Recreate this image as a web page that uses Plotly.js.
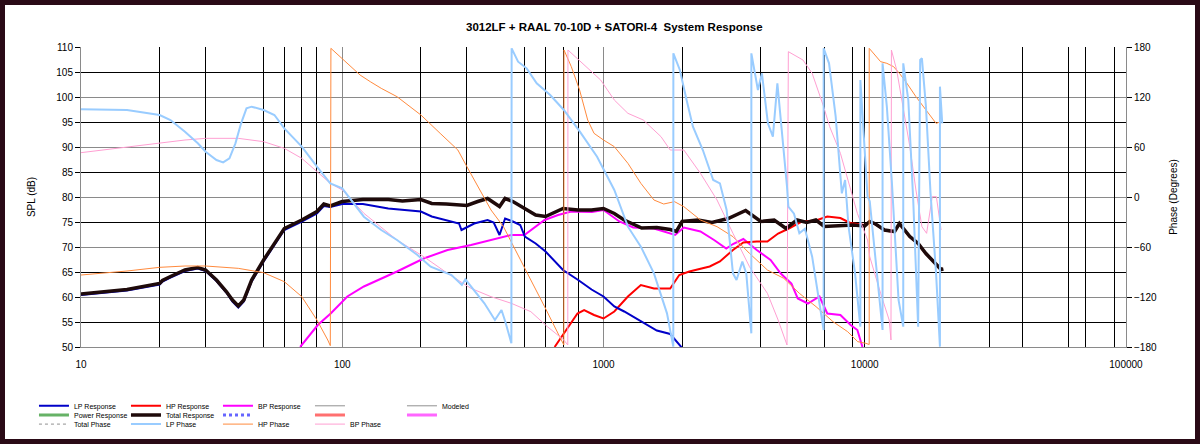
<!DOCTYPE html>
<html>
<head>
<meta charset="utf-8">
<script src="https://cdn.plot.ly/plotly-3.0.1.min.js"></script>
<style>
  html, body { margin: 0; padding: 0; background: #fff; }
  #frame { width: 1200px; height: 444px; box-sizing: border-box; border: 5px solid #2a0a16; background: #fff; }
  #chart { width: 1190px; height: 434px; }
</style>
</head>
<body>
<div id="frame"><div id="chart"></div></div>
<script>
"use strict";

// ---- data (Hz, dB / degrees) ----
var totFreq = [10, 15, 20, 20.5, 22, 25, 28, 30, 33, 36, 38, 40, 42, 45, 50, 55, 60, 70, 80, 85,
    90, 100, 120, 150, 170, 200, 220, 250, 300, 330, 360, 400, 420, 450, 500, 550, 600, 700, 800, 900,
    1000, 1100, 1200, 1400, 1600, 1800, 1900, 2000, 2300, 2600, 3000, 3500, 4000, 4500, 5000, 5500, 6000, 6500, 7000, 8000,
    9000, 10000, 10450, 11000, 11900, 13000, 13570, 14880, 16010, 17150, 18750, 19600, 20000];
var totDb = [60.6, 61.5, 62.7, 63.3, 64.1, 65.4, 65.9, 65.4, 63.4, 61.1, 59.4, 58.2, 59.4, 63.4, 67.4, 70.7, 73.7, 75.4, 77.1, 78.6,
    78.2, 79.1, 79.5, 79.5, 79.2, 79.5, 78.7, 78.6, 78.3, 79.1, 79.7, 78.1, 79.7, 79.1, 77.7, 76.4, 76.1, 77.7, 77.4, 77.4,
    77.7, 76.7, 75.4, 73.8, 73.9, 73.5, 73.1, 75.1, 75.4, 74.9, 75.7, 77.3, 75.1, 75.4, 73.7, 75.4, 74.9, 75.4, 74.1, 74.2,
    74.4, 74.2, 75.1, 74.6, 73.4, 73.1, 74.7, 72.1, 70.7, 68.7, 66.7, 65.5, 65.6];

var lpFreq = [10, 15, 20, 20.5, 22, 25, 28, 30, 33, 36, 38, 40, 42, 45, 50, 55, 60, 70, 80, 85,
    90, 100, 120, 150, 200, 220, 250, 280, 286, 320, 360, 380, 400, 420, 450, 480, 500, 550, 600, 700,
    800, 900, 1000, 1100, 1200, 1400, 1600, 1800, 2000];
var lpDb = [60.4, 61.3, 62.5, 63.1, 63.9, 65.2, 65.7, 65.2, 63.2, 60.9, 59.1, 57.9, 59.1, 63.1, 67.1, 70.4, 73.4, 75.1, 76.7, 78.2,
    78.0, 78.6, 78.6, 77.7, 77.1, 76.1, 75.4, 74.7, 73.4, 74.7, 75.4, 74.9, 72.4, 75.7, 75.1, 74.4, 72.1, 70.7, 69.1, 65.4,
    63.4, 61.5, 60.1, 58.1, 57.1, 55.1, 53.3, 52.6, 49.8];

var hpFreq = [650, 705, 795, 843, 920, 1000, 1100, 1240, 1390, 1560, 1800, 1950, 2130, 2550, 2790, 3130, 3430, 3860, 4240, 4660,
    5120, 5740, 6500, 7190, 8070, 8800, 9500, 10000, 10450, 11000, 11900, 13000, 13570, 14880, 16010, 17150, 18750, 19600];
var hpDb = [50, 52.7, 56.7, 57.4, 56.4, 55.7, 57.1, 60.1, 62.4, 61.7, 61.7, 64.4, 65.1, 66.1, 67.1, 69.4, 70.9, 71.1, 71.1, 72.7,
    73.7, 75.1, 75.3, 76.1, 75.8, 74.8, 74.5, 74.4, 75.0, 74.5, 73.3, 73.0, 74.6, 72.0, 70.6, 68.6, 66.6, 65.4];

var bpFreq = [69, 80.6, 90.3, 104.6, 121, 162, 205, 253, 311, 371, 444, 498, 527, 595, 670, 753, 903, 1000, 1150, 1300,
    1560, 1880, 2030, 2350, 2650, 2950, 3130, 3430, 3860, 4360, 4770, 5240, 5540, 6060, 6710, 7190, 8070, 8830, 9370, 9800];
var bpDb = [50, 54.4, 56.7, 60.1, 62.1, 65.1, 67.7, 69.4, 70.4, 71.4, 72.4, 72.4, 73.4, 75.4, 76.4, 77.1, 77.0, 77.4, 75.1, 73.9,
    73.7, 72.4, 73.9, 73.1, 71.4, 69.7, 70.6, 71.6, 69.4, 67.4, 64.7, 62.7, 59.7, 58.7, 60.1, 56.7, 56.4, 54.4, 53.4, 50];

var lpPhFreq = [10, 15, 20, 22, 25, 28, 30, 33, 35, 37, 39, 41, 43, 45, 50, 55, 60, 70, 80, 90,
    100, 121, 141, 162, 194, 218, 262, 287, 296, 311, 350, 384, 407, 421, 444, 445, 471, 508, 555, 625,
    705, 812, 945, 1100, 1240, 1390, 1560, 1750, 1850, 1851, 1960, 2080, 2200, 2400, 2630, 2790, 2960, 3130, 3230, 3400,
    3520, 3680, 3681, 3900, 4040, 4260, 4450, 4630, 4790, 5040, 5100, 5360, 5620, 5900, 6290, 6730, 6960, 6961, 7300, 7740,
    8170, 8410, 8670, 9180, 9620, 9621, 10250, 10450, 11100, 11700, 11701, 12150, 12700, 13470, 14040, 14041, 14680, 15330, 16010, 16300,
    16550, 17150, 17860, 18750, 19400, 19401, 19800];
var lpPhDeg = [105.2, 104.4, 98.4, 92.4, 78.4, 64.4, 54.4, 44.4, 41.6, 46.4, 64.4, 88.4, 106.4, 108.4, 104.4, 98.4, 82.4, 60.4, 36.4, 16.4,
    10.4, -23.6, -39.6, -51.6, -69.6, -83.6, -93.6, -105.6, -98.8, -107.6, -127.6, -147.6, -135.6, -149.6, -175.6, 178.4, 162.4, 154.4, 136.4, 122.4,
    104.4, 78.4, 48.4, 8.4, -35.6, -59.6, -91.6, -139.6, -179.6, 172.4, 152.4, 116.4, 84.4, 56.4, 20.4, 16.4, -15.6, -91.6, -99.6, -77.6,
    -91.6, -163.6, 172.4, 128.4, 148.4, 88.4, 72.4, 136.4, 88.4, 12.4, -11.6, -20, -43.6, -38, -71.6, -131.6, -159.6, 178.4, 160.4, 96.4,
    4.4, 20.4, -35.6, -91.6, -155.6, 140.4, 0.4, -5, -91.6, -159.6, 160.4, 108.4, 18, -123.6, -155.6, 160.4, 116.4, -3.6, -155.6, 164.4,
    166.4, 108.4, 4.4, -91.6, -179.6, 132.4, 88.4];

var hpPhFreq = [10, 15, 20, 25, 30, 40, 50, 60, 70, 80, 88, 90, 90.5, 101.6, 108, 117, 128, 141, 162, 200,
    237, 277, 300, 330, 371, 414, 466, 527, 595, 670, 705, 706, 753, 810, 870, 920, 1000, 1100, 1240, 1390,
    1560, 1700, 1870, 2030, 2350, 2720, 3130, 3620, 4240, 4900, 5620, 6510, 7560, 8600, 9400, 10100, 10400, 10401, 11500, 12150,
    12900, 13570, 14360, 15700, 17150, 18750, 19600];
var hpPhDeg = [-93.6, -88.8, -84.4, -82.8, -82.8, -85.6, -90.8, -101.6, -119.6, -147.6, -171.6, -178.4, 178.4, 164.4, 156.4, 146.4, 138.4, 130.4, 120.4, 98.4,
    76.4, 56.4, 36.4, 12.4, -15.6, -35.6, -67.6, -99.6, -131.6, -163.6, -177.6, 176.4, 156.4, 128.4, 92.4, 76.4, 68.4, 60.4, 40.4, 16.4,
    -3.6, -8.4, -5.6, -11.6, -27.6, -35.6, -47.6, -67.6, -87.6, -97.6, -115.6, -131.6, -149.6, -161.6, -173.6, -175.6, -177, 178.4, 162.4, 160.4,
    156.4, 148.4, 138.4, 120.4, 104.4, 88.4, 90.4];

var bpPhFreq = [10, 20, 25, 30, 40, 50, 60, 70, 80, 90, 100, 121, 162, 205, 253, 311, 371, 444, 527, 610,
    705, 730, 731, 843, 945, 975, 1100, 1240, 1420, 1660, 1800, 2030, 2350, 2720, 3130, 3620, 4240, 4660, 5040, 5100,
    5800, 6290, 6960, 7340, 8070, 8780, 9370, 10250, 10450, 11500, 12400, 12600, 12650, 13250, 14040, 14880, 15700, 16550, 17250, 18130,
    18800, 19600];
var bpPhDeg = [53.2, 64.4, 68.4, 70.4, 70.4, 66.4, 58.4, 46.4, 30.4, 16.4, 8.4, -19.6, -51.6, -71.6, -91.6, -109.6, -119.6, -127.6, -137.6, -155.6,
    -171.6, -177.6, 176.4, 158.4, 144.4, 140.4, 116.4, 100.4, 92.4, 72.4, 56.4, 56.4, 28.4, -3.6, -43.6, -83.6, -115.6, -147.6, -177.6, 174.4,
    164.4, 148.4, 108.4, 84.4, 52.4, 12.4, -19.6, -51.6, -71.6, -115.6, -147.6, -171.6, 176.4, 152.4, 108.4, 60.4, 8.4, -35.6, -43.6, 0.4,
    0.4, -39.6];

// axis ticks and grid positions
var decadeTicks = [10, 100, 1000, 10000, 100000];
var decadeLabels = ['10', '100', '1000', '10000', '100000'];
var blackGridX = [20, 30, 50, 60, 70, 80, 200, 300, 500, 600, 700, 800, 2000, 4000, 6000, 7000, 9000, 10000,
    30000, 40000, 60000, 70000, 90000];
var grayGridX = [40, 90, 100, 400, 900, 1000, 3000, 5000, 8000, 20000, 50000, 80000];
var splTicks = [50, 55, 60, 65, 70, 75, 80, 85, 90, 95, 100, 105, 110];
var splBlackGrid = [55, 65, 75, 85, 95, 105];
var phaseTicks = [-180, -120, -60, 0, 60, 120, 180];

var FONT = 'Liberation Sans, Arial, sans-serif';

function curve(name, x, y, color, width, yaxis, legend, rank) {
    return {
        type: 'scatter', mode: 'lines', name: name,
        x: x, y: y, yaxis: yaxis,
        line: { color: color, width: width },
        legend: legend, legendrank: rank, showlegend: true,
        hoverinfo: 'skip'
    };
}

// series that only have a legend entry in the original (nothing plotted);
// they sit on the grid-only axes so those axes get drawn
function legendOnly(name, color, width, dash, legend, rank) {
    return {
        type: 'scatter', mode: 'lines', name: name,
        x: [null], y: [null], xaxis: 'x2', yaxis: 'y3',
        line: { color: color, width: width, dash: dash || 'solid' },
        legend: legend, legendrank: rank, showlegend: true
    };
}

var traces = [
    curve('HP Phase', hpPhFreq, hpPhDeg, '#ff8a3d', 1, 'y2', 'legend3', 3),
    curve('BP Phase', bpPhFreq, bpPhDeg, '#ff9fd2', 1, 'y2', 'legend3', 4),
    curve('LP Phase', lpPhFreq, lpPhDeg, '#99ccff', 2, 'y2', 'legend3', 2),
    curve('BP Response', bpFreq, bpDb, '#ff00ff', 2, 'y', 'legend', 3),
    curve('HP Response', hpFreq, hpDb, '#ff0000', 2, 'y', 'legend', 2),
    curve('LP Response', lpFreq, lpDb, '#0000c8', 2, 'y', 'legend', 1),
    curve('Total Response', totFreq, totDb, '#1e0a0a', 3.5, 'y', 'legend2', 2),
    legendOnly(' ', '#909090', 1, 'solid', 'legend', 4),
    legendOnly('Modeled', '#909090', 1, 'solid', 'legend', 5),
    legendOnly('Power Response', '#66b266', 3, 'solid', 'legend2', 1),
    legendOnly('\u00a0', '#6666ff', 3, 'dot', 'legend2', 3),
    legendOnly('\u00a0\u00a0', '#ff7070', 3, 'solid', 'legend2', 4),
    legendOnly('\u00a0\u00a0\u00a0', '#ff66ff', 3, 'solid', 'legend2', 5),
    legendOnly('Total Phase', '#909090', 1, 'dot', 'legend3', 1)
];

function legendRow(y) {
    return {
        orientation: 'h', x: -0.045, xanchor: 'left', y: y, yanchor: 'middle',
        entrywidth: 47, entrywidthmode: 'pixels',
        bgcolor: 'rgba(0,0,0,0)', borderwidth: 0,
        font: { family: FONT, size: 7, color: '#000' },
        tracegroupgap: 0, itemclick: false
    };
}

var axisFont = { family: FONT, size: 10, color: '#000' };

var layout = {
    width: 1190, height: 434,
    margin: { l: 76, r: 69, t: 42, b: 92, autoexpand: false },
    paper_bgcolor: '#ffffff', plot_bgcolor: '#ffffff',
    title: {
        text: '<b>3012LF + RAAL 70-10D + SATORI-4\u00a0 System Response</b>',
        font: { family: FONT, size: 11.5, color: '#000' },
        xref: 'container', x: 0.512, xanchor: 'center', y: 0.949, yanchor: 'middle'
    },
    xaxis: {
        type: 'log', range: [1, 5], tickvals: decadeTicks, ticktext: decadeLabels,
        showgrid: true, gridcolor: '#8a8a8a', gridwidth: 1,
        showline: true, linecolor: '#8a8a8a', linewidth: 1,
        ticks: '', ticklabelstandoff: 8, tickfont: axisFont, zeroline: false
    },
    xaxis2: {
        type: 'log', range: [1, 5], overlaying: 'x', anchor: 'y3',
        tickvals: blackGridX, showticklabels: false, ticks: '',
        showgrid: true, gridcolor: '#000000', gridwidth: 1, zeroline: false
    },
    xaxis3: {
        type: 'log', range: [1, 5], overlaying: 'x', anchor: 'y',
        tickvals: grayGridX, showticklabels: false, ticks: '',
        showgrid: true, gridcolor: '#8a8a8a', gridwidth: 1, zeroline: false
    },
    yaxis: {
        range: [50, 110], tickvals: splTicks, showgrid: false,
        showline: true, linecolor: '#8a8a8a', linewidth: 1,
        ticks: 'outside', ticklen: 5, tickcolor: '#000', tickfont: axisFont,
        title: { text: 'SPL (dB)', font: axisFont, standoff: 18 }, zeroline: false
    },
    yaxis3: {
        range: [50, 110], overlaying: 'y', anchor: 'x2',
        tickvals: splBlackGrid, showticklabels: false, ticks: '',
        showgrid: true, gridcolor: '#000000', gridwidth: 1, zeroline: false
    },
    yaxis2: {
        range: [-180, 180], overlaying: 'y', side: 'right', anchor: 'x', tickvals: phaseTicks,
        showgrid: true, gridcolor: '#8a8a8a', gridwidth: 1,
        showline: true, linecolor: '#8a8a8a', linewidth: 1,
        ticks: 'outside', ticklen: 5, tickcolor: '#000', tickfont: axisFont,
        title: { text: 'Phase (Degrees)', font: axisFont, standoff: 14 }, zeroline: false
    },
    legend: legendRow(-0.196),
    legend2: legendRow(-0.227),
    legend3: legendRow(-0.257),
    showlegend: true
};

Plotly.newPlot('chart', traces, layout, { displayModeBar: false, staticPlot: true });
</script>
</body>
</html>
